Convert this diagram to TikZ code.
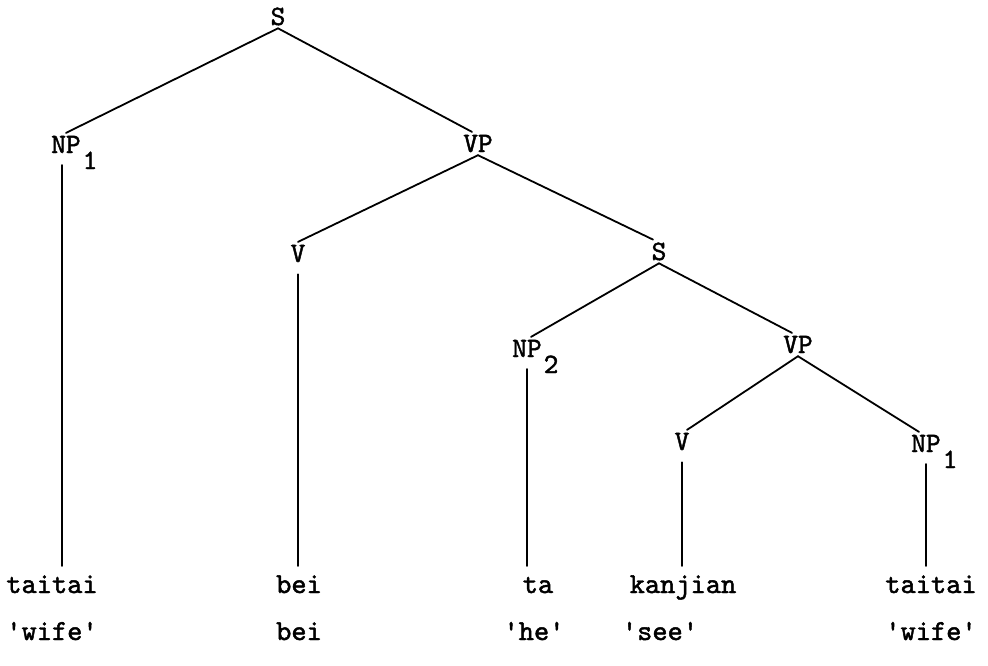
\documentclass[tikz,border=0pt]{standalone}
\usepackage{fontspec}
\setmainfont{Liberation Serif}
\setmonofont{lmmono10-regular}[Extension=.otf, FakeBold=1.6]
\newcommand\catsub[1]{\rlap{\smash{\raisebox{-16pt}{\hspace{2pt}#1}}}}
\begin{document}
\begin{tikzpicture}[x=1pt,y=-1pt,
  cat/.style={font=\ttfamily\fontsize{28}{28}\selectfont, inner sep=0pt, outer sep=3pt, anchor=base},
  word/.style={font=\ttfamily\fontsize{29}{29}\selectfont, inner sep=0pt, outer sep=3pt, anchor=base, text height=16pt},
  edge/.style={line width=1.8pt, line cap=round},
  stem/.style={edge, shorten <=9pt, shorten >=8pt}]
\useasboundingbox (0,0) rectangle (988,665);
% category labels
\node[cat] (S)   at (278,25)  {S};
\node[cat] (NPa) at (66,153)  {NP\catsub{1}};
\node[cat] (VPa) at (478,152) {VP};
\node[cat] (Va)  at (298,262) {V};
\node[cat] (Sb)  at (659,260) {S};
\node[cat] (NPb) at (527,357) {NP\catsub{2}};
\node[cat] (VPb) at (798,353) {VP};
\node[cat] (Vb)  at (682,450) {V};
\node[cat] (NPc) at (926,452) {NP\catsub{1}};
% words
\node[word] (w1) at (52,593)  {taitai};
\node[word] (w2) at (299,593) {bei};
\node[word] (w3) at (538,593) {ta};
\node[word] (w4) at (683,593) {kanjian};
\node[word] (w5) at (931,593) {taitai};
% glosses
\node[word] (g1) at (52,640)  {'wife'};
\node[word] (g2) at (299,640) {bei};
\node[word] (g3) at (534,640) {'he'};
\node[word] (g4) at (660,640) {'see'};
\node[word] (g5) at (931,640) {'wife'};
% branches
\draw[edge] (S.south) -- (NPa.north);
\draw[edge] (S.south) -- ([xshift=-6pt]VPa.north);
\draw[edge] (VPa.south) -- (Va.north);
\draw[edge] (VPa.south) -- ([xshift=-6pt]Sb.north);
\draw[edge] (Sb.south) -- ([xshift=4pt]NPb.north);
\draw[edge] (Sb.south) -- ([xshift=-6pt]VPb.north);
\draw[edge] (VPb.south) -- ([xshift=5pt]Vb.north);
\draw[edge] (VPb.south) -- ([xshift=-7pt]NPc.north);
% stems
\draw[stem] ([xshift=-4pt]NPa.south) -- ([xshift=-4pt]NPa.south |- w1.north);
\draw[stem] (Va.south) -- (Va.south |- w2.north);
\draw[stem] (NPb.south) -- (NPb.south |- w3.north);
\draw[stem] (Vb.south) -- (Vb.south |- w4.north);
\draw[stem] (NPc.south) -- (NPc.south |- w5.north);
\end{tikzpicture}
\end{document}
